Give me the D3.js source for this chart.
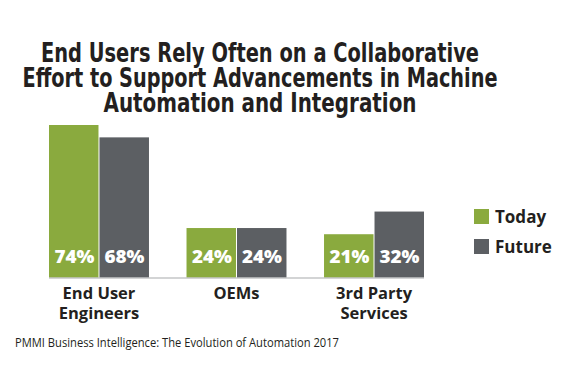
<!DOCTYPE html>
<html><head><meta charset="utf-8">
<script src="https://cdn.jsdelivr.net/npm/d3@7"></script>
<style>body{margin:0;background:#fff}svg{display:block}</style>
</head><body>
<svg id="c" width="572" height="366"></svg>
<script>
const categories = [["End User","Engineers"],["OEMs"],["3rd Party","Services"]];
const seriesNames = ["Today","Future"];
const today = [74, 24, 21];
const future = [68, 24, 32];
const titleLines = ["End Users Rely Often on a Collaborative","Effort to Support Advancements in Machine","Automation and Integration"];
const source = "PMMI Business Intelligence: The Evolution of Automation 2017";
const colors = ["#8aaa3e", "#5c5f63"];

const svg = d3.select("#c");
const base = 277.5;
const x0 = d3.scaleBand().domain(d3.range(categories.length)).range([49, 424]).paddingInner(0.273).paddingOuter(0);
const x1 = d3.scaleBand().domain(seriesNames).range([0, x0.bandwidth()]).padding(0);
const y = d3.scaleLinear().domain([0, 74]).range([base, 125]);

const titleWidths = [438, 475, 313];
const tfont = "'Liberation Sans Narrow','DejaVu Sans Condensed',sans-serif";
svg.append("g").selectAll("text").data(titleLines).join("text")
  .attr("x", 260).attr("y", (d,i)=>62 + i*25)
  .attr("text-anchor","middle")
  .attr("font-family", tfont).attr("font-weight","bold").attr("font-size", 26)
  .attr("fill","#231f20")
  .attr("textLength",(d,i)=>titleWidths[i]).attr("lengthAdjust","spacingAndGlyphs")
  .text(d=>d);

const data = categories.map((c,i)=>({i, vals:[today[i], future[i]]}));
const g = svg.append("g");
const grp = g.selectAll("g").data(data).join("g").attr("transform", d=>`translate(${x0(d.i)},0)`);
grp.selectAll("rect").data(d=>d.vals.map((v,k)=>({v,k}))).join("rect")
  .attr("x", d=>x1(seriesNames[d.k]) + (d.k===1?0.5:0))
  .attr("width", d=>x1.bandwidth() - 0.5)
  .attr("y", d=>y(d.v)).attr("height", d=>base - y(d.v))
  .attr("fill", d=>colors[d.k]);
const lfont = "'Open Sans','Noto Sans',sans-serif";
grp.selectAll("text.v").data(d=>d.vals.map((v,k)=>({v,k}))).join("text").attr("class","v")
  .attr("x", d=>x1(seriesNames[d.k]) + x1.bandwidth()/2 + 0.5)
  .attr("y", 263).attr("text-anchor","middle")
  .attr("font-family", lfont).attr("font-weight","800").attr("font-size", 18)
  .attr("fill","#fff").attr("textLength",40).attr("lengthAdjust","spacingAndGlyphs")
  .text(d=>d.v+"%");

svg.append("line").attr("x1",49).attr("x2",424).attr("y1",base+0.5).attr("y2",base+0.5)
  .attr("stroke","#a7a9ac").attr("stroke-width",1.2);

grp.selectAll("text.c").data(d=>categories[d.i]).join("text").attr("class","c")
  .attr("x", x0.bandwidth()/2).attr("y",(d,j)=>298.5 + j*20.5)
  .attr("text-anchor","middle")
  .attr("font-family", lfont).attr("font-weight","bold").attr("font-size", 16.5)
  .attr("fill","#231f20").text(d=>d);

const leg = svg.append("g").selectAll("g").data(seriesNames).join("g")
  .attr("transform",(d,i)=>`translate(474,${209 + i*30})`);
leg.append("rect").attr("width",15).attr("height",15).attr("fill",(d,i)=>colors[i]);
leg.append("text").attr("x",21).attr("y",14)
  .attr("font-family", lfont).attr("font-weight","bold").attr("font-size",17)
  .attr("fill","#231f20").text(d=>d);

svg.append("text").attr("x",15).attr("y",347)
  .attr("font-family", lfont).attr("font-size",12).attr("fill","#231f20")
  .attr("textLength",324).attr("lengthAdjust","spacingAndGlyphs")
  .text(source);
</script>
</body></html>
